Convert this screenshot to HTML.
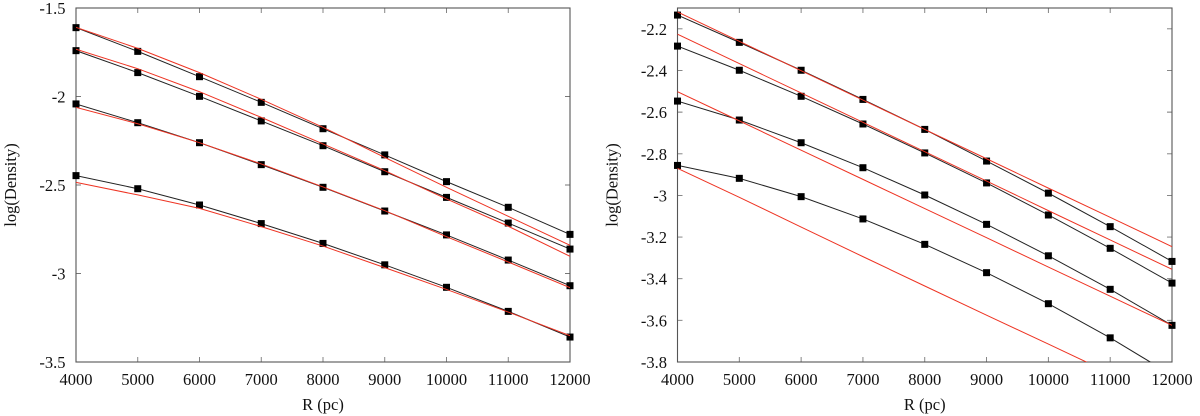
<!DOCTYPE html>
<html>
<head>
<meta charset="utf-8">
<title>log(Density) vs R</title>
<style>
html,body{margin:0;padding:0;background:#fff;}
svg{display:block;}
text{font-family:"Liberation Serif",serif;font-size:16.5px;fill:#111;}
</style>
</head>
<body>
<svg id="figure" width="1200" height="416" viewBox="0 0 1200 416" xmlns="http://www.w3.org/2000/svg"></svg>
<script>
// Shared x categories
const radii = [4000, 5000, 6000, 7000, 8000, 9000, 10000, 11000, 12000];
const xTicks = [4000, 5000, 6000, 7000, 8000, 9000, 10000, 11000, 12000];

// Left panel
const leftYTicks = [-1.5, -2, -2.5, -3, -3.5];
const leftBlack1 = [-1.611, -1.745, -1.888, -2.033, -2.182, -2.33, -2.481, -2.626, -2.779];
const leftBlack2 = [-1.741, -1.865, -1.999, -2.138, -2.278, -2.425, -2.57, -2.715, -2.862];
const leftBlack3 = [-2.042, -2.148, -2.261, -2.385, -2.513, -2.647, -2.782, -2.924, -3.069];
const leftBlack4 = [-2.447, -2.521, -2.613, -2.718, -2.83, -2.951, -3.078, -3.214, -3.359];
const leftRed1 = [-1.609, -1.728, -1.865, -2.016, -2.174, -2.344, -2.513, -2.677, -2.841];
const leftRed2 = [-1.733, -1.843, -1.973, -2.118, -2.268, -2.419, -2.579, -2.733, -2.903];
const leftRed3 = [-2.061, -2.154, -2.261, -2.381, -2.511, -2.645, -2.792, -2.935, -3.08];
const leftRed4 = [-2.485, -2.556, -2.632, -2.735, -2.845, -2.967, -3.09, -3.218, -3.351];

// Right panel
const rightYTicks = [-2.2, -2.4, -2.6, -2.8, -3, -3.2, -3.4, -3.6, -3.8];
const rightBlack1 = [-2.134, -2.265, -2.399, -2.539, -2.683, -2.835, -2.989, -3.15, -3.317];
const rightBlack2 = [-2.283, -2.399, -2.524, -2.657, -2.796, -2.94, -3.094, -3.254, -3.421];
const rightBlack3 = [-2.547, -2.638, -2.747, -2.867, -2.998, -3.139, -3.29, -3.451, -3.624];
const rightBlack4 = [-2.856, -2.918, -3.006, -3.113, -3.235, -3.371, -3.52, -3.684, -3.863];
const rightRed1 = [-2.119, -2.26, -2.401, -2.542, -2.683, -2.824, -2.965, -3.105, -3.246];
const rightRed2 = [-2.226, -2.367, -2.508, -2.649, -2.79, -2.931, -3.073, -3.214, -3.355];
const rightRed3 = [-2.502, -2.642, -2.783, -2.923, -3.063, -3.203, -3.344, -3.484, -3.624];
const rightRed4 = [-2.87, -3.009, -3.152, -3.294, -3.435, -3.575, -3.714, -3.854, -3.994];

const NS = 'http://www.w3.org/2000/svg';
const figure = document.getElementById('figure');

function make(parent, tag, attrs) {
  const el = document.createElementNS(NS, tag);
  for (const k in attrs) el.setAttribute(k, attrs[k]);
  parent.appendChild(el);
  return el;
}

function drawPanel(prefix, box, yMin, yMax, yTicks, blacks, reds) {
  const xScale = v => box.left + (v - 4000) / 8000 * (box.right - box.left);
  const yScale = v => box.bottom - (v - yMin) / (yMax - yMin) * (box.bottom - box.top);

  const panel = make(figure, 'g', {});
  
  

  const clipId = prefix + '-clip';
  const defs = make(panel, 'defs', {});
  const clip = make(defs, 'clipPath', { id: clipId });
  make(clip, 'rect', { x: box.left, y: box.top, width: box.right - box.left, height: box.bottom - box.top });

  xTicks.forEach(t => {
    const x = xScale(t);
    const tick = make(panel, 'path', { d: 'M' + x + ' ' + box.bottom + 'V' + (box.bottom - 5) + 'M' + x + ' ' + box.top + 'V' + (box.top + 5), stroke: '#777', 'stroke-width': 0.9, fill: 'none' });
    
    
    const label = make(panel, 'text', { x: x, y: 385, 'text-anchor': 'middle' });
    
    
    label.textContent = String(t);
  });

  yTicks.forEach(t => {
    const y = yScale(t);
    const tick = make(panel, 'path', { d: 'M' + box.left + ' ' + y + 'H' + (box.left + 5) + 'M' + box.right + ' ' + y + 'H' + (box.right - 5), stroke: '#777', 'stroke-width': 0.9, fill: 'none' });
    
    
    const label = make(panel, 'text', { x: box.left - 10.5, y: y + 6, 'text-anchor': 'end' });
    
    
    label.textContent = String(t);
  });

  const frame = make(panel, 'rect', { x: box.left, y: box.top, width: box.right - box.left, height: box.bottom - box.top, fill: 'none', stroke: '#555', 'stroke-width': 1.1 });
  
  

  const toPoints = vals => vals.map((v, i) => xScale(radii[i]) + ',' + yScale(v)).join(' ');

  blacks.forEach((vals, s) => {
    const line = make(panel, 'polyline', { points: toPoints(vals), fill: 'none', stroke: '#222', 'stroke-width': 1, 'clip-path': 'url(#' + clipId + ')' });
    
    
    vals.forEach((v, i) => {
      if (v < yMin || v > yMax) return;
      const m = make(panel, 'rect', { x: xScale(radii[i]) - 3.5, y: yScale(v) - 3.5, width: 7, height: 7, fill: '#000' });
      
      
    });
  });

  reds.forEach((vals, s) => {
    const line = make(panel, 'polyline', { points: toPoints(vals), fill: 'none', stroke: '#ee3322', 'stroke-width': 1, 'clip-path': 'url(#' + clipId + ')' });
    
    
  });

  const midX = (box.left + box.right) / 2;
  const xTitle = make(panel, 'text', { x: midX, y: 410, 'text-anchor': 'middle' });
  
  
  xTitle.textContent = 'R (pc)';

  const yx = box.left - 60;
  const yTitle = make(panel, 'text', { x: yx, y: 185, 'text-anchor': 'middle', transform: 'rotate(-90 ' + yx + ' 185)' });
  
  
  yTitle.textContent = 'log(Density)';
}

drawPanel('left', { left: 76, right: 570, top: 8, bottom: 362 }, -3.5, -1.5, leftYTicks,
  [leftBlack1, leftBlack2, leftBlack3, leftBlack4],
  [leftRed1, leftRed2, leftRed3, leftRed4]);

drawPanel('right', { left: 677.5, right: 1172, top: 8, bottom: 362 }, -3.8, -2.1, rightYTicks,
  [rightBlack1, rightBlack2, rightBlack3, rightBlack4],
  [rightRed1, rightRed2, rightRed3, rightRed4]);
</script>
</body>
</html>
